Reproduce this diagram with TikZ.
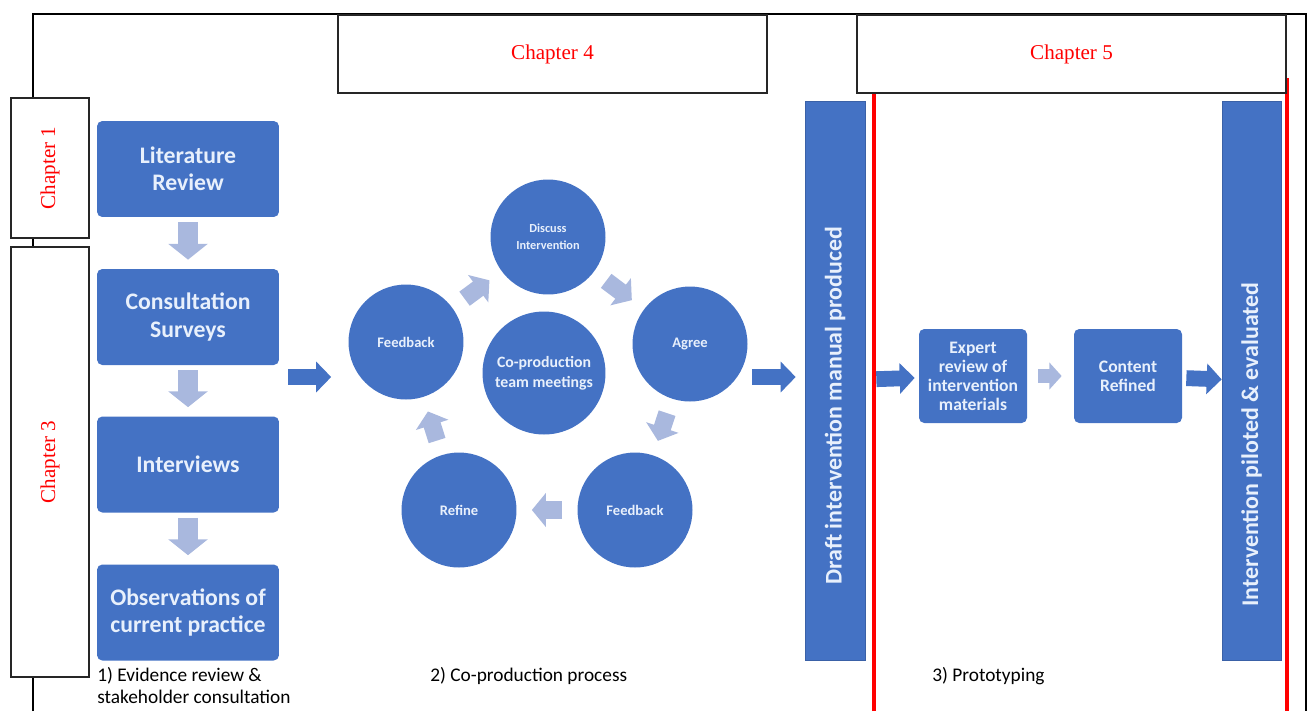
\documentclass[tikz,border=0pt]{standalone}
\usepackage{fontspec}
\setmainfont{Carlito}
\newfontfamily\chapfont{Liberation Serif}
\usetikzlibrary{arrows.meta}
\definecolor{boxblue}{RGB}{68,114,196}
\definecolor{paleblue}{RGB}{169,184,222}
\definecolor{boxtext}{RGB}{232,240,252}
\tikzset{
	stepbox/.style={rectangle, rounded corners=3pt, fill=boxblue, text=boxtext, align=center, inner sep=0pt,
		minimum width=3.64cm, minimum height=1.92cm, font=\bfseries\fontsize{13.5}{15.5}\selectfont},
	smallbox/.style={stepbox, minimum width=2.16cm, minimum height=1.88cm, font=\bfseries\fontsize{10}{10.8}\selectfont},
	bubble/.style={circle, fill=boxblue, text=boxtext, align=center, inner sep=0pt, minimum size=2.3cm,
		font=\bfseries\fontsize{8.3}{9.6}\selectfont},
	tallbox/.style={rectangle, rotate=90, fill=boxblue, draw=boxblue!85!black, line width=0.4pt, text=boxtext,
		minimum width=11.18cm, minimum height=1.2cm, font=\bfseries\fontsize{13.6}{15}\selectfont},
	chapbox/.style={rectangle, draw=black!85, line width=0.8pt, fill=white, text=red,
		font=\chapfont\fontsize{12}{14}\selectfont},
	darkarrow/.style={draw=boxblue, line width=9pt, -{Triangle[length=8.5pt,width=17pt]}},
	palearrow/.style={draw=paleblue, line width=11.5pt, -{Triangle[length=9pt,width=22pt]}},
	caption/.style={font=\fontsize{11}{12.5}\selectfont, inner sep=0pt}
}
\begin{document}
\begin{tikzpicture}[x=0.02cm, y=-0.02cm]
	\useasboundingbox (0,0) rectangle (1310,711);
	\draw[line width=1.3pt] (33,711) -- (33,14) -- (1306,14) -- (1306,711);
	\draw[red, line width=2.8pt] (874,711) -- (874,80) -- (1287,80) -- (1287,711);

	\node[chapbox, minimum width=8.58cm, minimum height=1.56cm] (chfour) at (552.5,54) {\raisebox{2pt}{Chapter 4}};
	\node[chapbox, minimum width=8.58cm, minimum height=1.56cm] (chfive) at (1071.5,54) {\raisebox{2pt}{Chapter 5}};
	\node[chapbox, rotate=90, minimum width=2.8cm, minimum height=1.56cm] (chone) at (50,168) {Chapter 1};
	\node[chapbox, rotate=90, minimum width=8.6cm, minimum height=1.56cm] (chthree) at (50,462) {Chapter 3};

	\node[stepbox] (lit) at (188,169) {Literature\\Review};
	\node[stepbox] (cons) at (188,317) {Consultation\\Surveys};
	\node[stepbox] (intv) at (188,464.5) {Interviews};
	\node[stepbox] (obs) at (188,612.5) {Observations of\\current practice};
	\draw[palearrow, shorten <=0.1cm, shorten >=0.18cm] (lit) -- (cons);
	\draw[palearrow, shorten <=0.1cm, shorten >=0.18cm] (cons) -- (intv);
	\draw[palearrow, shorten <=0.1cm, shorten >=0.18cm] (intv) -- (obs);

	\node[bubble, font=\bfseries\fontsize{7}{9.6}\selectfont] (disc) at (548,237) {Discuss\\Intervention};
	\node[bubble] (fbl) at (406,342) {Feedback};
	\node[bubble, minimum size=2.46cm, font=\bfseries\fontsize{9}{11.3}\selectfont] (core) at (544,373) {Co-production\\team meetings};
	\node[bubble] (agree) at (690,344) {Agree};
	\node[bubble] (fbr) at (635,510) {Feedback};
	\node[bubble] (refine) at (459,510) {Refine};
	\draw[palearrow, line width=10pt, -{Triangle[length=8pt,width=19pt]}, shorten <=0.3cm, shorten >=0.3cm] (fbl) -- (disc);
	\draw[palearrow, line width=10pt, -{Triangle[length=8pt,width=19pt]}, shorten <=0.3cm, shorten >=0.3cm] (disc) -- (agree);
	\draw[palearrow, line width=10pt, -{Triangle[length=8pt,width=19pt]}, shorten <=0.3cm, shorten >=0.3cm] (agree) -- (fbr);
	\draw[palearrow, line width=10pt, -{Triangle[length=8pt,width=19pt]}, shorten <=0.3cm, shorten >=0.3cm] (fbr) -- (refine);
	\draw[palearrow, line width=10pt, -{Triangle[length=8pt,width=19pt]}, shorten <=0.3cm, shorten >=0.3cm] (refine) -- (fbl);

	\node[tallbox] (draft) at (835,380.5) {Draft intervention manual produced\hspace*{1cm}};
	\node[tallbox, minimum height=1.18cm] (pilot) at (1251.5,380.5) {Intervention piloted \& evaluated\hspace*{2.56cm}};
	\node[smallbox] (expert) at (973,376) {Expert\\review of\\intervention\\materials};
	\node[smallbox] (content) at (1128,376) {Content\\Refined};

	\coordinate (evid) at (288,377);
	\coordinate (cycle) at (752,377);
	\draw[darkarrow, shorten >=0.34cm] (evid) -- (evid -| fbl.west);
	\draw[darkarrow, shorten >=0.18cm] (cycle) -- (cycle -| draft.north);
	\draw[darkarrow, shorten <=0.22cm, shorten >=0.08cm] (draft) -- (expert);
	\draw[palearrow, line width=8pt, -{Triangle[length=7pt,width=15pt]}, shorten <=0.22cm, shorten >=0.24cm] (expert) -- (content);
	\draw[darkarrow, shorten <=0.08cm] (content) -- (pilot);

	\node[caption, anchor=north west, align=left] (capone) at (97,667) {1) Evidence review \&\\stakeholder consultation};
	\node[caption, anchor=west] (captwo) at (430,676) {2) Co-production process};
	\node[caption, anchor=west] (capthree) at (932,676) {3) Prototyping};
\end{tikzpicture}
\end{document}
